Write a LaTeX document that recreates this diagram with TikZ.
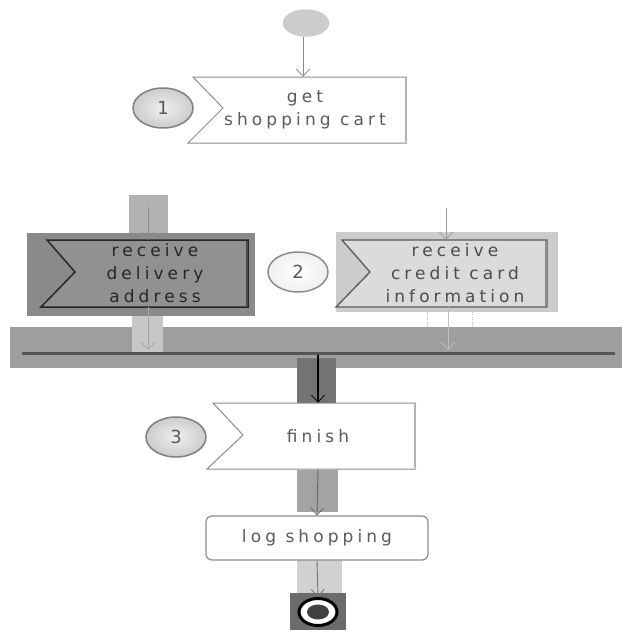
\documentclass[tikz,border=0pt]{standalone}
\usepackage{fontspec}
\setmainfont{DejaVu Sans}[LetterSpace=24]
\usetikzlibrary{shapes.geometric,arrows.meta,calc}
\definecolor{lgrey}{HTML}{8A8A8A}
\definecolor{dgrey}{HTML}{555555}
\definecolor{txt}{HTML}{5A5A5A}
\tikzset{
  arr/.style={draw=#1, line width=0.9pt, -{Straight Barb[length=7pt,width=13pt,line width=0.8pt]}},
  arr/.default=lgrey,
  lbl/.style={inner sep=0pt, align=center, text=txt, font=\fontsize{17}{23}\selectfont},
  numc/.style={ellipse, draw=black!50, line width=1.5pt, inner sep=0pt, minimum width=60pt, minimum height=40pt, text=black!65, font=\fontsize{18}{20}\selectfont, inner color=black!6, outer color=black!20},
  chev/.style={draw=#1, line width=1pt, line join=miter},
  hl/.style={fill=#1, draw=none}
}
\begin{document}
\begin{tikzpicture}[x=1pt,y=-1pt]
\useasboundingbox (0,0) rectangle (640,640);
\fill[white] (0,0) rectangle (640,640);

% ---- highlight backgrounds
\fill[hl=black!30] (129,195) rectangle (168,233);
\fill[hl=black!46] (27,233) rectangle (255,316);
\fill[hl=black!20] (336,232) rectangle (558,312);
\node[draw=none, fill=black!38, minimum width=612pt, minimum height=41pt, inner sep=0pt] (bar) at (316,347.5) {};
\fill[hl=black!22] (132,316) rectangle (163,354);
\fill[hl=black!55] (297,358) rectangle (336,403);
\fill[hl=black!36] (297,470) rectangle (338,512);
\fill[hl=black!18] (297,560) rectangle (342,595);
\fill[hl=black!58] (290,593) rectangle (346,630);
\draw[black!25, dotted] (427,312) -- (427,327) (472,312) -- (472,327);

% ---- start node
\node[ellipse, draw=black!35, densely dotted, fill=black!20, minimum width=46pt, minimum height=27pt, inner sep=0pt] (s) at (306,23) {};

% ---- box 1
\fill[white] (193,77) -- (407,77) -- (407,143) -- (188,143) -- (223,108) -- cycle;
\draw[chev=black!45] (407,77) -- (193,77) -- (223,108) -- (188,143) -- (407,143);
\draw[black!30, line width=2.5pt] (406,78) -- (406,142);
\node[lbl, minimum width=204pt, minimum height=66pt] (b1) at (305,110) {get\\shopping cart};
\node[numc] (n1) at (163,108) {1};

% ---- box 2 left (dark)
\fill[black!43] (47,240) -- (248,240) -- (248,307) -- (41,307) -- (75,272) -- cycle;
\draw[chev=black!85, line width=1.5pt] (248,240) -- (47,240) -- (75,272) -- (41,307) -- (248,307) -- cycle;
\draw[black!70, line width=2pt] (247,241) -- (247,306);
\node[lbl, text=black!85, minimum width=186pt, minimum height=67pt] (b2l) at (155,273.5) {receive\\delivery\\address};

% ---- circle 2
\node[numc, inner color=white, outer color=black!6, draw=black!45] (n2) at (298,272) {2};

% ---- box 2 right (light)
\fill[black!14] (342,240) -- (547,240) -- (547,307) -- (336,307) -- (370,272) -- cycle;
\draw[chev=black!65, line width=1.3pt] (547,240) -- (342,240) -- (370,272) -- (336,307) -- (547,307) -- cycle;
\draw[black!45, line width=2pt] (546,241) -- (546,306);
\node[lbl, text=black!70, minimum width=184pt, minimum height=67pt] (b2r) at (455,273.5) {receive\\credit card\\information};

% ---- join bar line
\coordinate (jl) at (22,353);
\coordinate (jr) at (615,353);
\draw[dgrey, line width=3pt] (jl) -- (jr);

% ---- box 3
\fill[white] (213,403) -- (416,403) -- (416,469) -- (207,469) -- (243,435) -- cycle;
\draw[chev=black!45] (416,403) -- (213,403) -- (243,435) -- (207,469) -- (416,469);
\draw[black!30, line width=2.5pt] (415,404) -- (415,468);
\node[lbl, minimum width=192pt, minimum height=66pt] (b3) at (318,436) {finish};
\node[numc] (n3) at (176,437) {3};

% ---- log shopping
\node[lbl, draw=black!45, line width=1.2pt, rounded corners=6pt, fill=white, minimum width=222pt, minimum height=44pt] (lg) at (317,538) {log shopping};

% ---- end node
\node[ellipse, draw=black, line width=3pt, fill=white, minimum width=38pt, minimum height=27pt, inner sep=0pt] (e) at (318,612) {};
\node[ellipse, fill=black!75, minimum width=22pt, minimum height=15pt, inner sep=0pt] (ei) at (e.center) {};

% ---- connectors
\coordinate (inl) at (148,207);
\coordinate (inr) at (446,208);
\draw[arr] (s.south -| b1.north) ++(-2,0) -- ($(b1.north)+(-2,0)$);
\draw[arr=black!45] (inl) -- (inl |- b2l.north);
\draw[arr=black!40] (inr) -- (inr |- b2r.north);
\draw[arr=black!35] (inl |- b2l.south) -- ($(inl |- jl)+(0,-3)$);
\draw[arr=black!25, line width=0.6pt] (448,307) -- ($(448,0 |- jr)+(0,-3)$);
\draw[arr=black, line width=1.6pt] ($(b3.north |- jl)+(0,2)$) -- (b3.north);
\draw[arr=black!60] (b3.south) -- (lg.north);
\draw[arr=black!55] (lg.south) -- (e.north);
\end{tikzpicture}
\end{document}
